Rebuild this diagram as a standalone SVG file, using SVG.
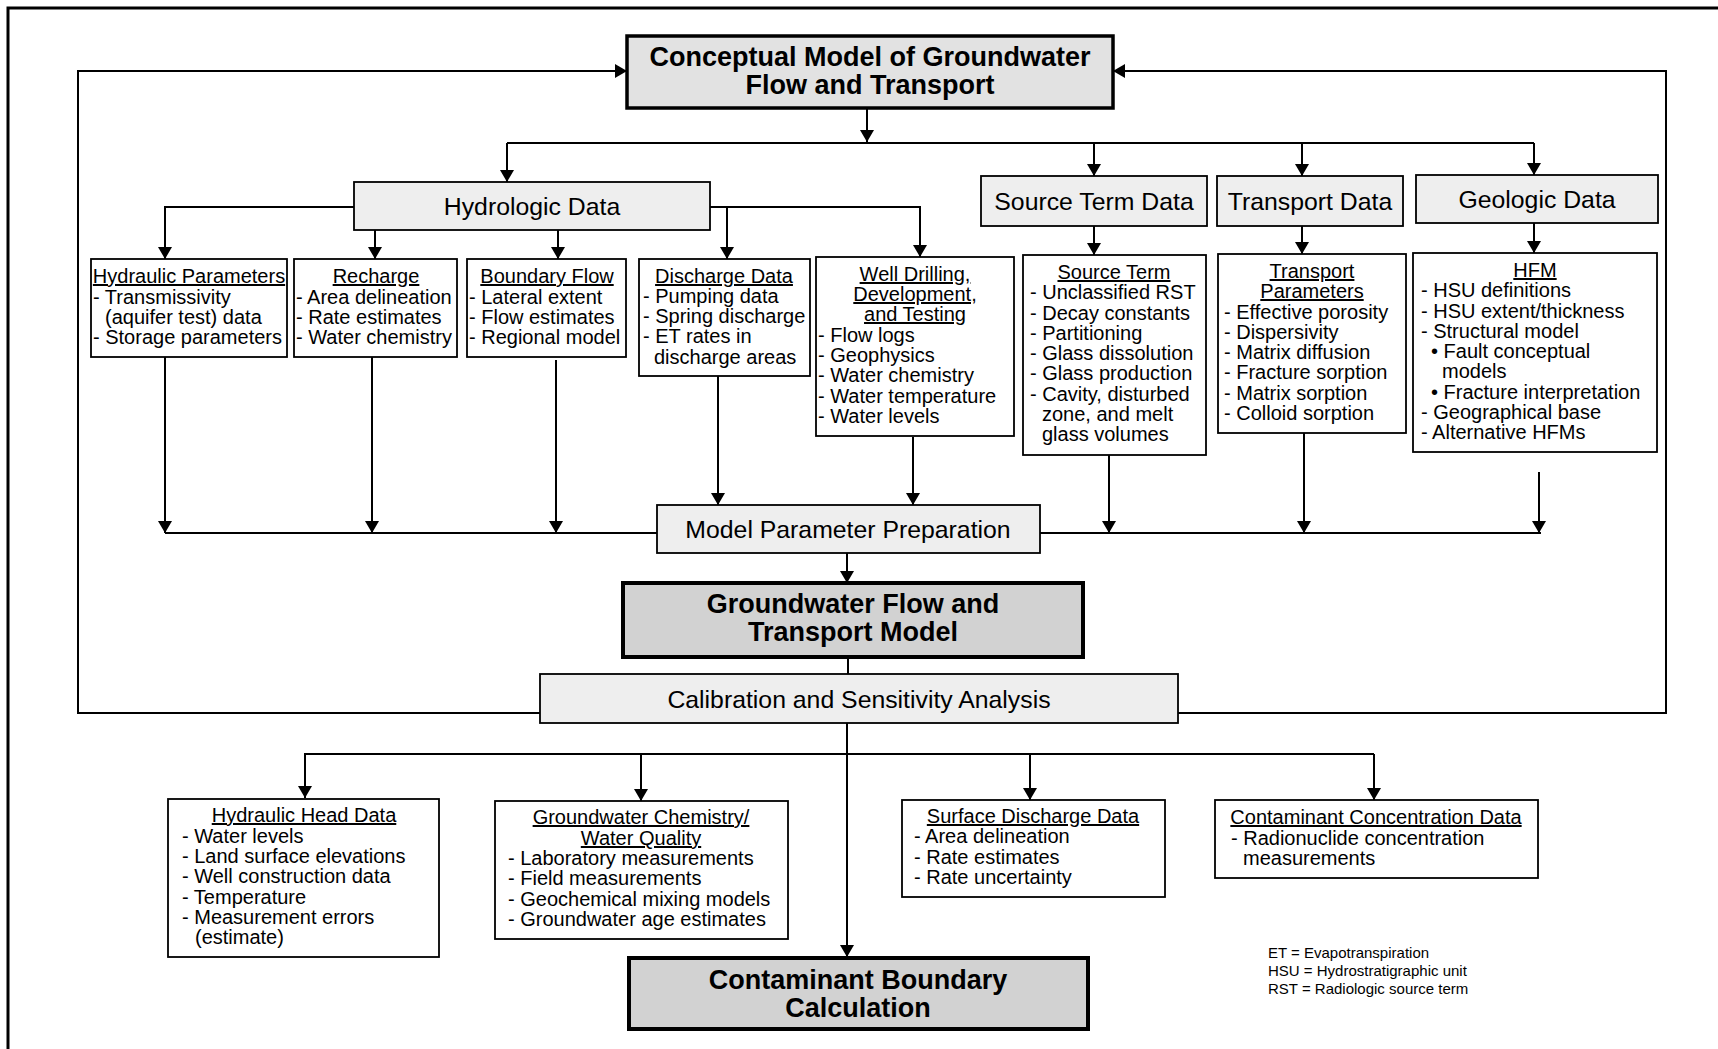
<svg xmlns="http://www.w3.org/2000/svg" width="1718" height="1049" viewBox="0 0 1718 1049">
<style>
text{font-family:"Liberation Sans",Arial,Helvetica,sans-serif;fill:#000}
.frame{fill:none;stroke:#000;stroke-width:3}
.c{fill:none;stroke:#000;stroke-width:2}
.hd{fill:#e2e2e2;stroke:#000;stroke-width:3.5}
.mb{fill:#d2d2d2;stroke:#000;stroke-width:4}
.lb{fill:#eeeeee;stroke:#000;stroke-width:1.8}
.wb{fill:#fff;stroke:#000;stroke-width:1.8}
.big{font-size:27px;font-weight:bold;text-anchor:middle}
.mid{font-size:24.8px;text-anchor:middle}
.t{font-size:20px}
.tt{font-size:20px;text-anchor:middle;text-decoration:underline}
.lg{font-size:15px}
</style>
<defs>
<marker id="ah" viewBox="0 0 12 14" refX="12" refY="7" markerWidth="12" markerHeight="14" markerUnits="userSpaceOnUse" orient="auto">
<path d="M0,0 L12,7 L0,14 Z" fill="#000"/>
</marker>
</defs>

<path class="frame" d="M8,1060 V8 H1730"/>

<g id="connectors">
<path class="c" d="M540,713 H78 V71 H627" marker-end="url(#ah)"/>
<path class="c" d="M1178,713 H1666 V71 H1113" marker-end="url(#ah)"/>
<path class="c" d="M867,108 V142" marker-end="url(#ah)"/>
<path class="c" d="M507,143 H1534"/>
<path class="c" d="M507,143 V182" marker-end="url(#ah)"/>
<path class="c" d="M1094,143 V176" marker-end="url(#ah)"/>
<path class="c" d="M1302,143 V176" marker-end="url(#ah)"/>
<path class="c" d="M1534,143 V175" marker-end="url(#ah)"/>
<path class="c" d="M354,207 H165 V259" marker-end="url(#ah)"/>
<path class="c" d="M710,207 H920 V257" marker-end="url(#ah)"/>
<path class="c" d="M727,207 V259" marker-end="url(#ah)"/>
<path class="c" d="M375,230 V259" marker-end="url(#ah)"/>
<path class="c" d="M558,230 V259" marker-end="url(#ah)"/>
<path class="c" d="M1094,226 V255" marker-end="url(#ah)"/>
<path class="c" d="M1302,226 V254" marker-end="url(#ah)"/>
<path class="c" d="M1534,223 V253" marker-end="url(#ah)"/>
<path class="c" d="M165,533 H657"/>
<path class="c" d="M1040,533 H1541"/>
<path class="c" d="M165,357 V533" marker-end="url(#ah)"/>
<path class="c" d="M372,357 V533" marker-end="url(#ah)"/>
<path class="c" d="M556,360 V533" marker-end="url(#ah)"/>
<path class="c" d="M718,376 V505" marker-end="url(#ah)"/>
<path class="c" d="M913,437 V505" marker-end="url(#ah)"/>
<path class="c" d="M1109,455 V533" marker-end="url(#ah)"/>
<path class="c" d="M1304,433 V533" marker-end="url(#ah)"/>
<path class="c" d="M1539,472 V533" marker-end="url(#ah)"/>
<path class="c" d="M847,553 V583" marker-end="url(#ah)"/>
<path class="c" d="M848,657 V674"/>
<path class="c" d="M847,723 V957" marker-end="url(#ah)"/>
<path class="c" d="M304,754 H1374"/>
<path class="c" d="M305,754 V798" marker-end="url(#ah)"/>
<path class="c" d="M641,754 V801" marker-end="url(#ah)"/>
<path class="c" d="M1030,754 V800" marker-end="url(#ah)"/>
<path class="c" d="M1374,754 V800" marker-end="url(#ah)"/>
</g>

<g id="conceptual-model">
<rect class="hd" x="627" y="36" width="486" height="72"/>
<text class="big" x="870" y="66">Conceptual Model of Groundwater</text>
<text class="big" x="870" y="94">Flow and Transport</text>
</g>

<g id="hydrologic-data">
<rect class="lb" x="354" y="182" width="356" height="48"/>
<text class="mid" x="532" y="215">Hydrologic Data</text>
</g>
<g id="source-term-data">
<rect class="lb" x="981" y="176" width="226" height="50"/>
<text class="mid" x="1094" y="210">Source Term Data</text>
</g>
<g id="transport-data">
<rect class="lb" x="1217" y="176" width="186" height="50"/>
<text class="mid" x="1310" y="210">Transport Data</text>
</g>
<g id="geologic-data">
<rect class="lb" x="1416" y="175" width="242" height="48"/>
<text class="mid" x="1537" y="208">Geologic Data</text>
</g>

<g id="hydraulic-parameters">
<rect class="wb" x="91" y="259" width="196" height="98"/>
<text class="tt" x="189" y="283">Hydraulic Parameters</text>
<text class="t" x="93" y="304">- Transmissivity</text>
<text class="t" x="105" y="324">(aquifer test) data</text>
<text class="t" x="93" y="344">- Storage parameters</text>
</g>
<g id="recharge">
<rect class="wb" x="294" y="259" width="163" height="98"/>
<text class="tt" x="376" y="283">Recharge</text>
<text class="t" x="296" y="304">- Area delineation</text>
<text class="t" x="296" y="324">- Rate estimates</text>
<text class="t" x="296" y="344">- Water chemistry</text>
</g>
<g id="boundary-flow">
<rect class="wb" x="467" y="259" width="159" height="98"/>
<text class="tt" x="547" y="283">Boundary Flow</text>
<text class="t" x="469" y="304">- Lateral extent</text>
<text class="t" x="469" y="324">- Flow estimates</text>
<text class="t" x="469" y="344">- Regional model</text>
</g>
<g id="discharge-data">
<rect class="wb" x="639" y="259" width="171" height="117"/>
<text class="tt" x="724" y="283">Discharge Data</text>
<text class="t" x="643" y="303">- Pumping data</text>
<text class="t" x="643" y="323">- Spring discharge</text>
<text class="t" x="643" y="343">- ET rates in</text>
<text class="t" x="654" y="364">discharge areas</text>
</g>
<g id="well-drilling">
<rect class="wb" x="816" y="257" width="198" height="179"/>
<text class="tt" x="915" y="281">Well Drilling,</text>
<text class="tt" x="915" y="301">Development,</text>
<text class="tt" x="915" y="321">and Testing</text>
<text class="t" x="818" y="342">- Flow logs</text>
<text class="t" x="818" y="362">- Geophysics</text>
<text class="t" x="818" y="382">- Water chemistry</text>
<text class="t" x="818" y="403">- Water temperature</text>
<text class="t" x="818" y="423">- Water levels</text>
</g>
<g id="source-term">
<rect class="wb" x="1023" y="255" width="183" height="200"/>
<text class="tt" x="1114" y="279">Source Term</text>
<text class="t" x="1030" y="299">- Unclassified RST</text>
<text class="t" x="1030" y="320">- Decay constants</text>
<text class="t" x="1030" y="340">- Partitioning</text>
<text class="t" x="1030" y="360">- Glass dissolution</text>
<text class="t" x="1030" y="380">- Glass production</text>
<text class="t" x="1030" y="401">- Cavity, disturbed</text>
<text class="t" x="1042" y="421">zone, and melt</text>
<text class="t" x="1042" y="441">glass volumes</text>
</g>
<g id="transport-parameters">
<rect class="wb" x="1218" y="254" width="188" height="179"/>
<text class="tt" x="1312" y="278">Transport</text>
<text class="tt" x="1312" y="298">Parameters</text>
<text class="t" x="1224" y="319">- Effective porosity</text>
<text class="t" x="1224" y="339">- Dispersivity</text>
<text class="t" x="1224" y="359">- Matrix diffusion</text>
<text class="t" x="1224" y="379">- Fracture sorption</text>
<text class="t" x="1224" y="400">- Matrix sorption</text>
<text class="t" x="1224" y="420">- Colloid sorption</text>
</g>
<g id="hfm">
<rect class="wb" x="1413" y="253" width="244" height="199"/>
<text class="tt" x="1535" y="277">HFM</text>
<text class="t" x="1421" y="297">- HSU definitions</text>
<text class="t" x="1421" y="318">- HSU extent/thickness</text>
<text class="t" x="1421" y="338">- Structural model</text>
<text class="t" x="1431" y="358">• Fault conceptual</text>
<text class="t" x="1442" y="378">models</text>
<text class="t" x="1431" y="399">• Fracture interpretation</text>
<text class="t" x="1421" y="419">- Geographical base</text>
<text class="t" x="1421" y="439">- Alternative HFMs</text>
</g>

<g id="model-parameter-preparation">
<rect class="lb" x="657" y="505" width="383" height="48"/>
<text class="mid" x="848" y="538">Model Parameter Preparation</text>
</g>
<g id="groundwater-flow-model">
<rect class="mb" x="623" y="583" width="460" height="74"/>
<text class="big" x="853" y="613">Groundwater Flow and</text>
<text class="big" x="853" y="641">Transport Model</text>
</g>
<g id="calibration">
<rect class="lb" x="540" y="674" width="638" height="49"/>
<text class="mid" x="859" y="708">Calibration and Sensitivity Analysis</text>
</g>

<g id="hydraulic-head-data">
<rect class="wb" x="168" y="799" width="271" height="158"/>
<text class="tt" x="304" y="822">Hydraulic Head Data</text>
<text class="t" x="182" y="843">- Water levels</text>
<text class="t" x="182" y="863">- Land surface elevations</text>
<text class="t" x="182" y="883">- Well construction data</text>
<text class="t" x="182" y="904">- Temperature</text>
<text class="t" x="182" y="924">- Measurement errors</text>
<text class="t" x="195" y="944">(estimate)</text>
</g>
<g id="groundwater-chemistry">
<rect class="wb" x="495" y="801" width="293" height="138"/>
<text class="tt" x="641" y="824">Groundwater Chemistry/</text>
<text class="tt" x="641" y="845">Water Quality</text>
<text class="t" x="508" y="865">- Laboratory measurements</text>
<text class="t" x="508" y="885">- Field measurements</text>
<text class="t" x="508" y="906">- Geochemical mixing models</text>
<text class="t" x="508" y="926">- Groundwater age estimates</text>
</g>
<g id="surface-discharge-data">
<rect class="wb" x="902" y="800" width="263" height="97"/>
<text class="tt" x="1033" y="823">Surface Discharge Data</text>
<text class="t" x="914" y="843">- Area delineation</text>
<text class="t" x="914" y="864">- Rate estimates</text>
<text class="t" x="914" y="884">- Rate uncertainty</text>
</g>
<g id="contaminant-concentration-data">
<rect class="wb" x="1215" y="800" width="323" height="78"/>
<text class="tt" x="1376" y="824">Contaminant Concentration Data</text>
<text class="t" x="1231" y="845">- Radionuclide concentration</text>
<text class="t" x="1243" y="865">measurements</text>
</g>
<g id="contaminant-boundary-calculation">
<rect class="mb" x="629" y="958" width="459" height="71"/>
<text class="big" x="858" y="989">Contaminant Boundary</text>
<text class="big" x="858" y="1017">Calculation</text>
</g>

<g id="legend">
<text class="lg" x="1268" y="958">ET = Evapotranspiration</text>
<text class="lg" x="1268" y="976">HSU = Hydrostratigraphic unit</text>
<text class="lg" x="1268" y="994">RST = Radiologic source term</text>
</g>
</svg>
